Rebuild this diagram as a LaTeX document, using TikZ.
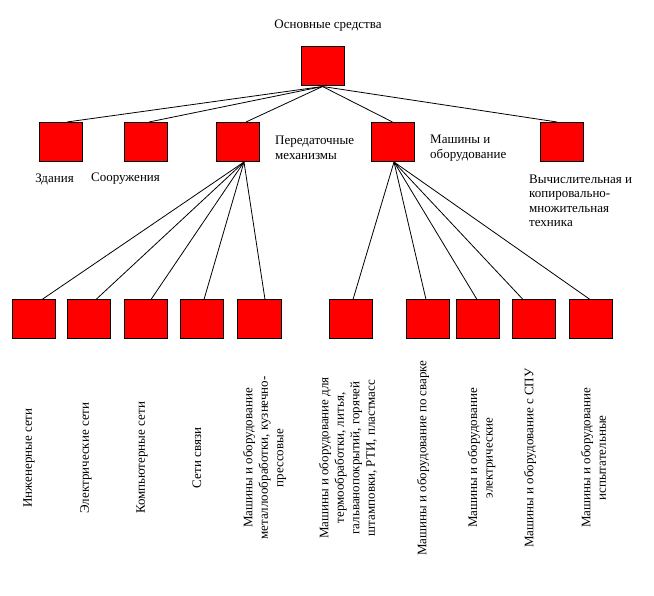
\documentclass[tikz,border=0pt]{standalone}
\usepackage{fontspec}
\setmainfont{Liberation Serif}
\begin{document}
\begin{tikzpicture}[x=1pt,y=-1pt,
  redbox/.style={draw=black,line width=1pt,fill=red,minimum width=43pt,minimum height=39pt,inner sep=0pt},
  conn/.style={draw=black,line width=0.8pt},
  lbl/.style={inner sep=0pt,font=\fontsize{13}{14.5}\selectfont},
  vlbl/.style={inner sep=0pt,rotate=90,align=center,font=\fontsize{13}{15.5}\selectfont}]
\useasboundingbox (0,0) rectangle (654,596);
% title
\node[lbl] (title) at (328,26) {Основные средства};
\node[redbox] (root) at (322.5,66.5) {};
% level 2
\node[redbox] (zd) at (61,142) {};
\node[redbox] (so) at (146,142) {};
\node[redbox] (pe) at (237.5,142) {};
\node[redbox] (ma) at (392.5,142) {};
\node[redbox] (vy) at (561.5,142) {};
\node[lbl] (tzd) at (54.5,179) {Здания};
\node[lbl] (tso) at (125.5,179) {Сооружения};
\node[lbl,anchor=west,align=left] (tpe) at (275,148) {Передаточные\\механизмы};
\node[lbl,anchor=west,align=left] (tma) at (430,148) {Машины и\\оборудование};
\node[lbl,anchor=west,align=left] (tvy) at (529,201) {Вычислительная и\\копировально-\\множительная\\техника};
% level 3
\node[redbox] (b1) at (34,319.5) {};
\node[redbox] (b2) at (89,319.5) {};
\node[redbox] (b3) at (146,319.5) {};
\node[redbox] (b4) at (202,319.5) {};
\node[redbox,minimum width=44pt] (b5) at (259,319.5) {};
\node[redbox] (b6) at (350.5,319.5) {};
\node[redbox] (b7) at (427.5,319.5) {};
\node[redbox] (b8) at (477.5,319.5) {};
\node[redbox] (b9) at (533.5,319.5) {};
\node[redbox] (b10) at (590.5,319.5) {};
% rotated labels
\node[vlbl] (t1) at (29,458) {Инженерные сети};
\node[vlbl] (t2) at (86,458) {Электрические сети};
\node[vlbl] (t3) at (142,458) {Компьютерные сети};
\node[vlbl] (t4) at (197,458) {Сети связи};
\node[vlbl] (t5) at (264.5,458) {Машины и оборудование\\металлообработки, кузнечно-\\прессовые};
\node[vlbl] (t6) at (348,458) {Машины и оборудование для\\термообработки, литья,\\гальванопокрытий, горячей\\штамповки, РТИ, пластмасс};
\node[vlbl] (t7) at (423,458) {Машины и оборудование по сварке};
\node[vlbl] (t8) at (481.5,458) {Машины и оборудование\\электрические};
\node[vlbl] (t9) at (530,458) {Машины и оборудование с СПУ};
\node[vlbl] (t10) at (593.5,458) {Машины и оборудование\\испытательные};
% connectors root -> level 2
\draw[conn] (root.south) -- ([xshift=6pt]zd.north);
\draw[conn] (root.south) -- ([xshift=3pt]so.north);
\draw[conn] (root.south) -- ([xshift=8.5pt]pe.north);
\draw[conn] (root.south) -- (ma.north);
\draw[conn] (root.south) -- ([xshift=-4.5pt]vy.north);
% pe -> b1..b5
\draw[conn] ([xshift=6.5pt]pe.south) -- ([xshift=8pt]b1.north);
\draw[conn] ([xshift=6.5pt]pe.south) -- ([xshift=7pt]b2.north);
\draw[conn] ([xshift=6.5pt]pe.south) -- ([xshift=5pt]b3.north);
\draw[conn] ([xshift=6.5pt]pe.south) -- ([xshift=2pt]b4.north);
\draw[conn] ([xshift=6.5pt]pe.south) -- ([xshift=6pt]b5.north);
% ma -> b6..b10
\draw[conn] ([xshift=1.5pt]ma.south) -- ([xshift=2.5pt]b6.north);
\draw[conn] ([xshift=1.5pt]ma.south) -- ([xshift=-1.5pt]b7.north);
\draw[conn] ([xshift=1.5pt]ma.south) -- ([xshift=-0.5pt]b8.north);
\draw[conn] ([xshift=1.5pt]ma.south) -- ([xshift=-10.5pt]b9.north);
\draw[conn] ([xshift=1.5pt]ma.south) -- ([xshift=-0.5pt]b10.north);
\end{tikzpicture}
\end{document}
